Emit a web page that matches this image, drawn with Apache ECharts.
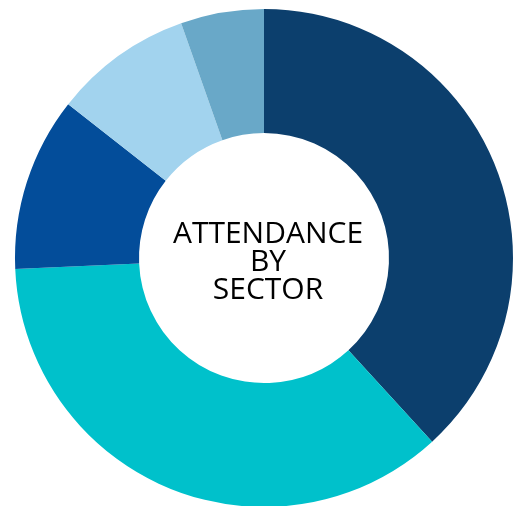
<!DOCTYPE html>
<html>
<head>
<meta charset="utf-8">
<script src="https://cdn.jsdelivr.net/npm/echarts@6/dist/echarts.min.js"></script>
<style>
  html, body { margin: 0; padding: 0; background: #fff; }
  #chart { width: 519px; height: 506px; }
</style>
</head>
<body>
<div id="chart"></div>
<script>
// 数据
var sectors = ['Sector 1', 'Sector 2', 'Sector 3', 'Sector 4', 'Sector 5'];
var attendance = [38.2, 36.1, 11.3, 9.0, 5.4];
var sectorColors = ['#0c3f6d', '#00c1cb', '#034d9a', '#a2d3ee', '#69a8c8'];

var myChart = echarts.init(document.getElementById('chart'));

var option = {
    animation: false,
    graphic: [{
        type: 'text',
        x: 268,
        y: 262,
        style: {
            text: 'ATTENDANCE\nBY\nSECTOR',
            textAlign: 'center',
            textVerticalAlign: 'middle',
            fontFamily: 'Open Sans',
            fontWeight: 'normal',
            fontSize: 30,
            lineHeight: 28,
            fill: '#000'
        }
    }],
    series: [{
        type: 'pie',
        center: [264, 258],
        radius: [125, 249],
        startAngle: 90,
        clockwise: true,
        label: { show: false },
        labelLine: { show: false },
        itemStyle: { borderWidth: 0 },
        data: sectors.map(function (name, i) {
            return { name: name, value: attendance[i], itemStyle: { color: sectorColors[i] } };
        })
    }]
};

myChart.setOption(option);
</script>
</body>
</html>
